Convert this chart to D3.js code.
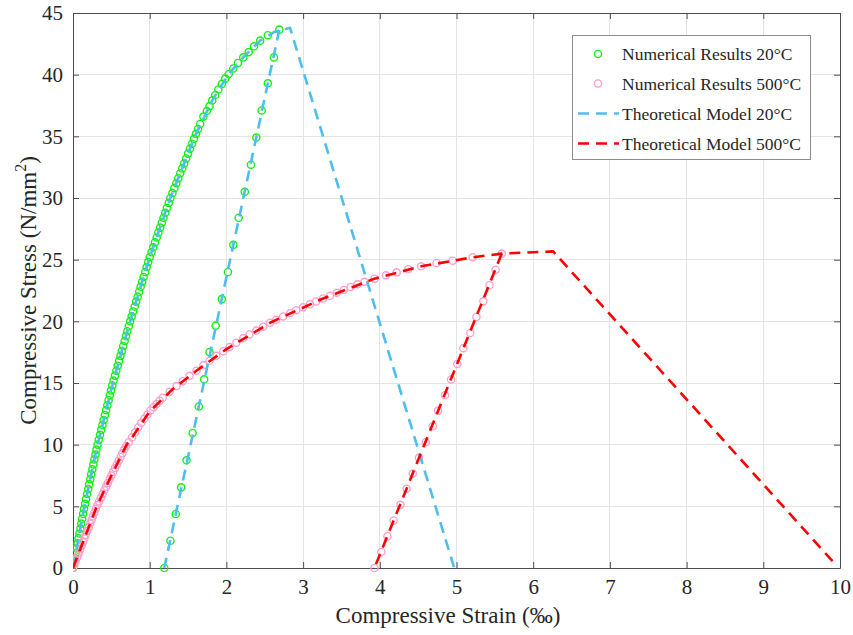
<!DOCTYPE html>
<html>
<head>
<meta charset="utf-8">
<script src="https://cdn.jsdelivr.net/npm/d3@7"></script>
<style>
  html, body { margin: 0; padding: 0; background: #fff; }
  svg { display: block; font-family: "Liberation Serif", "Times New Roman", serif; }
</style>
</head>
<body>
<svg id="chart" width="853" height="635"></svg>
<script>
// ---------------- DATA (strain ‰, stress N/mm²) ----------------
const xTicks = [0, 1, 2, 3, 4, 5, 6, 7, 8, 9, 10];
const yTicks = [0, 5, 10, 15, 20, 25, 30, 35, 40, 45];

const legendLabels = [
  "Numerical Results 20°C",
  "Numerical Results 500°C",
  "Theoretical Model 20°C",
  "Theoretical Model 500°C"
];

// Numerical results 20°C - loading branch (markers)
const num20Load = [
  [0,0],[0.012,0.4],[0.024,0.8],[0.036,1.2],[0.048,1.6],[0.060,2.0],[0.072,2.4],[0.084,2.8],
  [0.096,3.2],[0.108,3.6],[0.120,4.0],[0.132,4.4],[0.144,4.8],[0.157,5.2],[0.170,5.6],[0.184,6.0],
  [0.198,6.4],[0.211,6.8],[0.225,7.2],[0.238,7.6],[0.252,8.0],[0.266,8.4],[0.279,8.8],[0.293,9.2],
  [0.306,9.6],[0.320,10.0],[0.336,10.4],[0.352,10.8],[0.368,11.2],[0.384,11.6],[0.400,12.0],[0.416,12.4],
  [0.432,12.8],[0.448,13.2],[0.464,13.6],[0.480,14.0],[0.496,14.4],[0.512,14.8],[0.529,15.2],[0.547,15.6],
  [0.565,16.0],[0.583,16.4],[0.601,16.8],[0.619,17.2],[0.637,17.6],[0.655,18.0],[0.673,18.4],[0.691,18.8],
  [0.709,19.2],[0.727,19.6],[0.745,20.0],[0.765,20.4],[0.784,20.8],[0.804,21.2],[0.823,21.6],[0.843,22.0],
  [0.863,22.4],[0.882,22.8],[0.902,23.2],[0.921,23.6],[0.941,24.0],[0.961,24.4],[0.980,24.8],[1.001,25.2],
  [1.024,25.6],[1.046,26.0],[1.068,26.4],[1.091,26.8],[1.113,27.2],[1.136,27.6],[1.158,28.0],[1.180,28.4],
  [1.203,28.8],[1.225,29.2],[1.248,29.6],[1.270,30.0],[1.296,30.4],[1.321,30.8],[1.347,31.2],[1.372,31.6],
  [1.398,32.0],[1.424,32.4],[1.449,32.8],[1.475,33.2],[1.500,33.6],[1.526,34.0],[1.552,34.4],[1.577,34.8],
  [1.603,35.2],[1.630,35.6],[1.657,36.0],[1.700,36.6],[1.745,37.05],[1.780,37.45],[1.815,37.9],[1.855,38.35],
  [1.895,38.8],[1.940,39.25],[1.985,39.68],[2.030,40.06],[2.090,40.5],[2.150,40.95],[2.220,41.4],[2.290,41.83],
  [2.360,42.3],[2.440,42.76],[2.540,43.2]
];
// Numerical results 20°C - unloading branch (markers)
const num20Unload = [
  [2.69,43.65],[2.62,41.4],[2.54,39.3],[2.46,37.1],[2.39,34.9],[2.32,32.7],[2.24,30.5],
  [2.16,28.4],[2.09,26.2],[2.02,24.0],[1.94,21.8],[1.86,19.65],[1.78,17.5],[1.71,15.3],
  [1.64,13.1],[1.56,10.95],[1.48,8.73],[1.41,6.54],[1.34,4.38],[1.27,2.21],[1.19,0]
];

// Numerical results 500°C - loading branch (markers)
const num500Load = [
  [0,0],[0.019,0.3],[0.037,0.6],[0.056,0.9],[0.074,1.2],[0.093,1.5],[0.112,1.8],[0.130,2.1],
  [0.149,2.4],[0.167,2.7],[0.186,3.0],[0.205,3.3],[0.223,3.6],[0.242,3.9],[0.260,4.2],[0.279,4.5],
  [0.298,4.8],[0.318,5.1],[0.340,5.4],[0.363,5.7],[0.386,6.0],[0.409,6.3],[0.432,6.6],[0.454,6.9],
  [0.477,7.2],[0.500,7.5],[0.524,7.8],[0.548,8.1],[0.572,8.4],[0.596,8.7],[0.620,9.0],[0.644,9.3],
  [0.668,9.6],[0.692,9.9],[0.725,10.2],[0.77,10.6],[0.81,11.0],[0.85,11.4],[0.89,11.77],[0.93,12.1],
  [0.97,12.45],[1.01,12.77],[1.05,13.03],[1.09,13.3],[1.13,13.57],[1.17,13.81],[1.26,14.29],[1.35,14.75],
  [1.43,15.15],[1.52,15.58],[1.61,16.0],[1.70,16.43],[1.78,16.8],[1.87,17.2],[1.96,17.58],[2.04,17.91],
  [2.13,18.27],[2.22,18.64],[2.30,18.94],[2.39,19.25],[2.48,19.57],[2.57,19.88],[2.65,20.13],[2.74,20.4],
  [2.83,20.66],[2.91,20.9],[3.00,21.14],[3.09,21.39],[3.17,21.61],[3.26,21.85],[3.35,22.08],[3.44,22.31],
  [3.53,22.55],[3.62,22.78],[3.71,23.0],[3.80,23.2],[3.93,23.46],[4.08,23.73],[4.22,23.97],[4.37,24.22],
  [4.54,24.46],[4.74,24.73],[4.95,24.92],[5.21,25.19]
];
// Numerical results 500°C - unloading branch (markers)
const num500Unload = [
  [5.59,25.49],[5.51,24.19],[5.43,22.92],[5.35,21.62],[5.26,20.36],[5.18,19.06],[5.09,17.82],
  [5.01,16.55],[4.93,15.28],[4.85,14.01],[4.76,12.74],[4.69,11.49],[4.60,10.20],[4.51,8.93],
  [4.43,7.66],[4.35,6.42],[4.27,5.12],[4.18,3.85],[4.10,2.58],[4.02,1.30],[3.93,0.0]
];

// Theoretical model 20°C (dashed): envelope and unloading
const theo20Envelope = [
  [0,0],[0.15,5],[0.32,10],[0.52,15],[0.745,20],[0.99,25],[1.27,30],[1.59,35],[1.815,37.9],
  [2.03,40.06],[2.22,41.4],[2.44,42.76],[2.62,43.45],[2.83,43.8],[4.97,0]
];
const theo20Unload = [[2.69,43.65],[1.19,0]];

// Theoretical model 500°C (dashed): envelope and unloading
const theo500Envelope = [
  [0,0],[0.31,5],[0.50,7.5],[0.70,10],[0.75,10.4],[1.0,12.7],[1.3,14.5],[1.6,15.95],[2.0,17.75],
  [2.59,19.95],[3.26,21.85],[3.93,23.46],[4.54,24.46],[5.21,25.19],[5.59,25.49],[6.26,25.67],[9.94,0.3]
];
const theo500Unload = [[5.59,25.49],[3.93,0]];

// ---------------- CHART ----------------
const svg = d3.select("#chart");
const plot = { left: 73, right: 840, top: 13, bottom: 568 };

const x = d3.scaleLinear().domain([0, 10]).range([plot.left, plot.right]);
const y = d3.scaleLinear().domain([0, 45]).range([plot.bottom, plot.top]);

const colors = { g: "#14ee14", p: "#ff9ccb", b: "#4dbeee", r: "#ff0000" };
const axisColor = "#4d4d4d";

// Grid
const grid = svg.append("g");
grid.selectAll("line.vx").data(xTicks.slice(1, -1)).join("line")
  .attr("x1", d => x(d)).attr("x2", d => x(d))
  .attr("y1", plot.top).attr("y2", plot.bottom)
  .attr("stroke", "#e4e4e4").attr("stroke-width", 1).attr("shape-rendering", "crispEdges");
grid.selectAll("line.hy").data(yTicks.slice(1, -1)).join("line")
  .attr("y1", d => y(d)).attr("y2", d => y(d))
  .attr("x1", plot.left).attr("x2", plot.right)
  .attr("stroke", "#e4e4e4").attr("stroke-width", 1).attr("shape-rendering", "crispEdges");

// Axes (with inward ticks on all four sides)
const tickLen = 6;
const fontTick = 21;
const axB = svg.append("g").attr("transform", `translate(0,${plot.bottom})`)
  .call(d3.axisBottom(x).tickValues(xTicks).tickSizeInner(-tickLen).tickSizeOuter(0).tickPadding(11).tickFormat(d3.format("d")));
const axT = svg.append("g").attr("transform", `translate(0,${plot.top})`)
  .call(d3.axisTop(x).tickValues(xTicks).tickSizeInner(-tickLen).tickSizeOuter(0).tickFormat(""));
const axL = svg.append("g").attr("transform", `translate(${plot.left},0)`)
  .call(d3.axisLeft(y).tickValues(yTicks).tickSizeInner(-tickLen).tickSizeOuter(0).tickPadding(10).tickFormat(d3.format("d")));
const axR = svg.append("g").attr("transform", `translate(${plot.right},0)`)
  .call(d3.axisRight(y).tickValues(yTicks).tickSizeInner(-tickLen).tickSizeOuter(0).tickFormat(""));
[axB, axT, axL, axR].forEach(a => {
  a.select(".domain").attr("stroke", axisColor).attr("stroke-width", 1);
  a.selectAll(".tick line").attr("stroke", axisColor);
  a.selectAll("text").attr("font-family", "Liberation Serif").attr("font-size", fontTick).attr("fill", "#262626");
});

// Clip path for data
svg.append("clipPath").attr("id", "clip").append("rect")
  .attr("x", plot.left).attr("y", plot.top - 8)
  .attr("width", plot.right - plot.left + 4).attr("height", plot.bottom - plot.top + 12);
const data = svg.append("g").attr("clip-path", "url(#clip)");

const line = d3.line().x(d => x(d[0])).y(d => y(d[1]));

function markers(arr, color, r, sw) {
  data.append("g").selectAll("circle").data(arr).join("circle")
    .attr("cx", d => x(d[0])).attr("cy", d => y(d[1])).attr("r", r)
    .attr("fill", "none").attr("stroke", color).attr("stroke-width", sw);
}
function dashed(arr, color) {
  data.append("path").datum(arr).attr("d", line)
    .attr("fill", "none").attr("stroke", color).attr("stroke-width", 2.6)
    .attr("stroke-dasharray", "11,7").attr("stroke-linejoin", "round");
}

markers(num20Load.concat(num20Unload), colors.g, 3.6, 1.4);
markers(num500Load.concat(num500Unload), colors.p, 3.6, 1.3);
dashed(theo20Envelope, colors.b);
dashed(theo20Unload, colors.b);
dashed(theo500Envelope, colors.r);
dashed(theo500Unload, colors.r);

// Axis labels
svg.append("text").attr("x", 448).attr("y", 623)
  .attr("text-anchor", "middle").attr("font-size", 23).attr("fill", "#262626")
  .text("Compressive Strain (‰)");
const yl = svg.append("text")
  .attr("transform", `translate(36,${(plot.top + plot.bottom) / 2}) rotate(-90)`)
  .attr("text-anchor", "middle").attr("font-size", 23).attr("fill", "#262626");
yl.append("tspan").text("Compressive Stress (N/mm");
yl.append("tspan").attr("font-size", 16).attr("dy", -10).text("2");
yl.append("tspan").attr("dy", 10).text(")");

// Legend
const lg = svg.append("g");
lg.append("rect").attr("x", 572.5).attr("y", 35.5).attr("width", 238).attr("height", 124)
  .attr("fill", "#fff").attr("stroke", "#8c8c8c").attr("stroke-width", 1);
const rowsY = [54, 83.5, 113.5, 143.5];
legendLabels.forEach((lab, i) => {
  const cy = rowsY[i];
  if (i < 2) {
    lg.append("circle").attr("cx", 598).attr("cy", cy).attr("r", 3.6)
      .attr("fill", "none").attr("stroke", i === 0 ? colors.g : colors.p).attr("stroke-width", 1.4);
  } else {
    lg.append("line").attr("x1", 578).attr("x2", 619).attr("y1", cy).attr("y2", cy)
      .attr("stroke", i === 2 ? colors.b : colors.r).attr("stroke-width", 2.6)
      .attr("stroke-dasharray", "11,7");
  }
  lg.append("text").attr("x", 622).attr("y", cy + 6).attr("font-size", 17.5).attr("fill", "#262626").text(lab);
});
</script>
</body>
</html>
